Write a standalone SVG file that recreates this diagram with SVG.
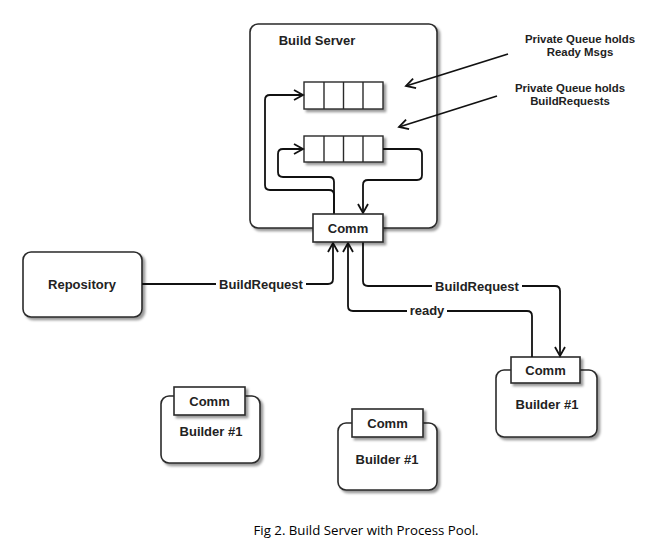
<svg xmlns="http://www.w3.org/2000/svg" width="663" height="546" viewBox="0 0 663 546">
<defs>
<filter id="sh" x="-10%" y="-10%" width="130%" height="130%">
<feDropShadow dx="2.5" dy="2.5" stdDeviation="1.2" flood-color="#000" flood-opacity="0.4"/>
</filter>
<marker id="ar" markerUnits="userSpaceOnUse" markerWidth="13" markerHeight="13" refX="11" refY="6.5" orient="auto">
<path d="M2,1.5 L11,6.5 L2,11.5" fill="none" stroke="#111" stroke-width="1.8"/>
</marker>
</defs>
<style>
.box{fill:#fff;stroke:#2a2a2a;stroke-width:1.6;filter:url(#sh)}
.cell{fill:#fff;stroke:#2a2a2a;stroke-width:1.4}
.t{font-family:"Liberation Sans",Arial,sans-serif;font-weight:bold;font-size:13px;fill:#222;text-anchor:middle}
.a{font-family:"Liberation Sans",Arial,sans-serif;font-weight:bold;font-size:11.4px;fill:#222;text-anchor:middle}
.c{fill:none;stroke:#111;stroke-width:1.8}
.lb{fill:#fff}
</style>
<rect width="663" height="546" fill="#fff"/>

<g id="build-server">
<rect class="box" x="250" y="24" width="187" height="204" rx="8"/>
<text class="t" x="317" y="45">Build Server</text>
</g>

<g id="queue-ready">
<rect class="cell" x="304" y="82" width="79" height="27" style="filter:url(#sh)"/>
<line class="cell" x1="324" y1="82" x2="324" y2="109"/>
<line class="cell" x1="343.5" y1="82" x2="343.5" y2="109"/>
<line class="cell" x1="363" y1="82" x2="363" y2="109"/>
</g>

<g id="queue-build">
<rect class="cell" x="304" y="136" width="79" height="26" style="filter:url(#sh)"/>
<line class="cell" x1="324" y1="136" x2="324" y2="162"/>
<line class="cell" x1="343.5" y1="136" x2="343.5" y2="162"/>
<line class="cell" x1="363" y1="136" x2="363" y2="162"/>
</g>

<g id="repository">
<rect class="box" x="23" y="252" width="119" height="65" rx="8"/>
<text class="t" x="82" y="289">Repository</text>
</g>

<g id="builder-right">
<rect class="box" x="496" y="370" width="101" height="67" rx="8"/>
<rect class="box" x="511" y="357" width="69" height="26"/>
<text class="t" x="545.5" y="375">Comm</text>
<text class="t" x="547" y="409">Builder #1</text>
</g>

<g id="builder-left">
<rect class="box" x="161" y="396" width="99" height="67" rx="8"/>
<rect class="box" x="174" y="387" width="71" height="28"/>
<text class="t" x="209.5" y="406">Comm</text>
<text class="t" x="211" y="436">Builder #1</text>
</g>

<g id="builder-middle">
<rect class="box" x="338" y="423" width="99" height="67" rx="8"/>
<rect class="box" x="352" y="409" width="71" height="28"/>
<text class="t" x="387.5" y="428">Comm</text>
<text class="t" x="387" y="464">Builder #1</text>
</g>

<g id="connectors">
<path class="c" d="M334,214 L334,195 Q334,190 329,190 L270,190 Q265,190 265,185 L265,100 Q265,95 270,95 L303,95" marker-end="url(#ar)"/>
<path class="c" d="M334,214 L334,182 Q334,177 329,177 L283,177 Q278,177 278,172 L278,154 Q278,149 283,149 L303,149" marker-end="url(#ar)"/>
<path class="c" d="M383,149 L417,149 Q422,149 422,154 L422,175 Q422,180 417,180 L368,180 Q363,180 363,185 L363,213" marker-end="url(#ar)"/>
<path class="c" d="M142,284 L328,284 Q333,284 333,279 L333,243" marker-end="url(#ar)"/>
<path class="c" d="M532,357 L532,316 Q532,311 527,311 L353,311 Q348,311 348,306 L348,243" marker-end="url(#ar)"/>
<path class="c" d="M363,242 L363,281 Q363,286 368,286 L555,286 Q560,286 560,291 L560,356" marker-end="url(#ar)"/>
<path class="c" d="M508,54 L406,86" marker-end="url(#ar)"/>
<path class="c" d="M497,96 L399,127" marker-end="url(#ar)"/>
<rect class="lb" x="216" y="277" width="90" height="14"/>
<text class="t" x="261" y="289">BuildRequest</text>
<rect class="lb" x="432" y="279" width="90" height="14"/>
<text class="t" x="477" y="291">BuildRequest</text>
<rect class="lb" x="407" y="304" width="40" height="14"/>
<text class="t" x="427" y="315">ready</text>
</g>

<g id="server-comm">
<rect class="box" x="313" y="214" width="70" height="28"/>
<text class="t" x="348" y="233">Comm</text>
</g>

<g id="annotations">
<text class="a" x="580" y="43">Private Queue holds</text>
<text class="a" x="580" y="56">Ready Msgs</text>
<text class="a" x="570" y="92">Private Queue holds</text>
<text class="a" x="570" y="105">BuildRequests</text>
</g>

<text x="366" y="535" font-family="'Open Sans','Noto Sans',sans-serif" font-size="13" fill="#000" text-anchor="middle" textLength="225" lengthAdjust="spacingAndGlyphs">Fig 2. Build Server with Process Pool.</text>
</svg>
